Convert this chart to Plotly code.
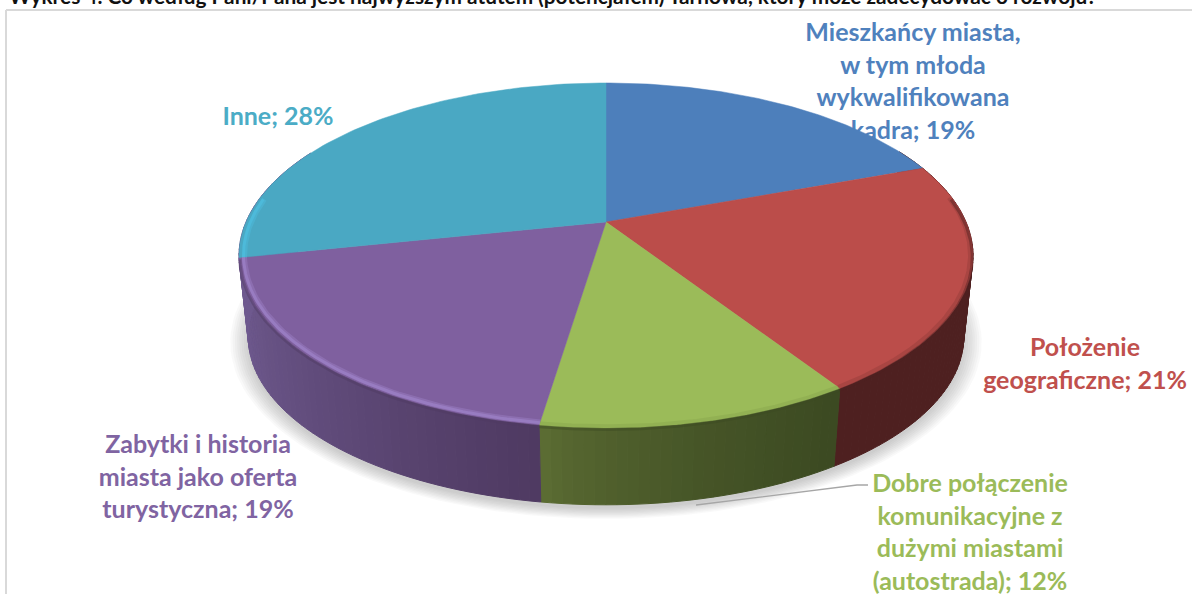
import numpy as np
import plotly.graph_objects as go

# ---- data ----
categories = ["Mieszkańcy miasta, w tym młoda wykwalifikowana kadra",
              "Położenie geograficzne",
              "Dobre połączenie komunikacyjne z dużymi miastami (autostrada)",
              "Zabytki i historia miasta jako oferta turystyczna",
              "Inne"]
values = [19.4, 21.45, 11.55, 19.3, 28.3]   # estimated, shown rounded in the labels
label_lines = [["Mieszkańcy miasta,", "w tym młoda", "wykwalifikowana", "kadra; 19%"],
               ["Położenie", "geograficzne; 21%"],
               ["Dobre połączenie", "komunikacyjne z", "dużymi miastami", "(autostrada); 12%"],
               ["Zabytki i historia", "miasta jako oferta", "turystyczna; 19%"],
               ["Inne; 28%"]]
title_text = ("<b>Wykres 4. Co według Pani/Pana jest najwyższym atutem (potencjałem) "
              "Tarnowa, który może zadecydować o rozwoju?</b>")

# ---- styles / geometry ----
W, H = 1192, 594
face = ["#4d7fbb", "#bb4d4a", "#9bbb59", "#7f609f", "#4aa8c3"]
text_col = ["#4f81bd", "#c0504d", "#9bbb59", "#8064a2", "#4bacc6"]
wall_l = ["#4e2020", "#4e2020", "#5f7035", "#6f5a8f", "#6f5a8f"]
wall_r = ["#4e2020", "#4e2020", "#3c4a22", "#4f3a62", "#6f5a8f"]
rim = ["#3a628f", "#8f3a38", "#86a34c", "#a58ad2", "#4fc3e6"]
label_pos = [(913, 35), (1085, 350), (970, 486), (198, 447), (278, 119)]
LINE = 32.5
CX, CY, A, B, P = 606.0, 222.0, 166.0, 360.0, 0.194
DEPTH, SHR = 82.0, 0.975


def proj(theta, depth=False, grow=1.0):
    X, Y = np.sin(theta), np.cos(theta)
    w = 1 + P * Y
    x, y = B * X / w, -A * Y / w
    if depth:
        return CX + SHR * grow * x, CY + DEPTH + SHR * grow * y
    return CX + grow * x, CY + grow * y


def hex2rgb(h):
    return np.array([int(h[i:i + 2], 16) for i in (1, 3, 5)], float)


def mix(c1, c2, t):
    v = hex2rgb(c1) * (1 - t) + hex2rgb(c2) * t
    return "rgb(%d,%d,%d)" % tuple(v)


edges = np.cumsum([0] + values) / sum(values) * 2 * np.pi
fig = go.Figure()

# labels first so that the pie can cover them
for lines, (lx, ly), col in zip(label_lines, label_pos, text_col):
    fig.add_trace(go.Scatter(x=[lx] * len(lines), y=[ly + i * LINE for i in range(len(lines))],
                             mode="text", text=lines, textposition="middle center",
                             textfont=dict(family="Lato", size=25, color=col, weight="bold"),
                             hoverinfo="skip"))

# soft shadow
t_all = np.linspace(0, 2 * np.pi, 181)
for i, g in enumerate(np.linspace(1.05, 1.0, 9)):
    sx, sy = proj(t_all, True, g)
    fig.add_trace(go.Scatter(x=sx, y=sy + 4, mode="lines", fill="toself", line=dict(width=0),
                             fillcolor="rgba(90,90,90,0.035)", hoverinfo="skip"))

# side wall, split in thin strips
for k in range(len(values)):
    n = max(int((edges[k + 1] - edges[k]) / 0.025), 2)
    ts = np.linspace(edges[k], edges[k + 1], n + 1)
    front = np.cos((ts[:-1] + ts[1:]) / 2) < 0.45
    x0, x1 = proj(ts)[0].min(), proj(ts)[0].max()
    for j in range(n):
        if not front[j]:
            continue
        tx, ty = proj(ts[j:j + 2])
        bx, by = proj(ts[j:j + 2], True)
        f = ((tx.mean() - x0) / max(x1 - x0, 1)) ** 0.6
        c = mix(wall_l[k], wall_r[k], f)
        fig.add_trace(go.Scatter(x=[tx[0], tx[1], bx[1], bx[0], tx[0]],
                                 y=[ty[0], ty[1], by[1], by[0], ty[0]],
                                 mode="lines", fill="toself", fillcolor=c,
                                 line=dict(width=1, color=c), hoverinfo="skip"))

# top face
for k in range(len(values)):
    ts = np.linspace(edges[k], edges[k + 1], 90)
    rx, ry = proj(ts)
    fig.add_trace(go.Scatter(x=np.r_[CX, rx, CX], y=np.r_[CY, ry, CY], mode="lines", fill="toself",
                             fillcolor=face[k], line=dict(width=0.5, color=face[k]),
                             name=categories[k], hoverinfo="skip"))

# bevel along the visible rim
for k in range(1, len(values)):
    lo, hi = edges[k], edges[k + 1]
    if k == 4:
        hi = lo + 0.35
    if k == 1:
        lo = lo + 0.2
    ts = np.linspace(lo, hi, 80)
    bevel = [(0.985, 5, 0.35), (0.988, 3, 0.5)] if k in (3, 4) else [(0.992, 4, 0.4)]
    for grow, wd, op in bevel:
        rx, ry = proj(ts, False, grow)
        fig.add_trace(go.Scatter(x=rx, y=ry, mode="lines", opacity=op,
                                 line=dict(width=wd, color=rim[k]), hoverinfo="skip"))
    if k != 4:
        rx, ry = proj(ts, False, 0.998)
        fig.add_trace(go.Scatter(x=rx, y=ry + 2, mode="lines", opacity=0.45,
                                 line=dict(width=3, color=wall_r[k]), hoverinfo="skip"))

# frame, leader line, title
shapes = [dict(type="line", x0=6, x1=6, y0=10, y1=H, line=dict(color="#d9d9d9", width=2)),
          dict(type="line", x0=6, x1=W, y0=10, y1=10, line=dict(color="#d9d9d9", width=2))]
fig.add_trace(go.Scatter(x=[696, 857, 868], y=[505, 485, 485], mode="lines",
                         line=dict(color="#a6a6a6", width=1.3), hoverinfo="skip"))

fig.add_annotation(x=8 / W, y=1, xref="paper", yref="paper", xanchor="left", yanchor="bottom",
                   yshift=-9, showarrow=False, text=title_text, borderpad=0,
                   font=dict(family="Lato", size=20.8, color="#111111"))

fig.update_layout(width=W, height=H, margin=dict(l=0, r=0, t=0, b=0), showlegend=False,
                  paper_bgcolor="white", plot_bgcolor="white", shapes=shapes,
                  xaxis=dict(range=[0, W], visible=False, fixedrange=True),
                  yaxis=dict(range=[H, 0], visible=False, fixedrange=True))
fig.write_html("out.html", config=dict(displayModeBar=False),
               post_script="document.body.style.margin='0';document.body.style.overflow='hidden';")
